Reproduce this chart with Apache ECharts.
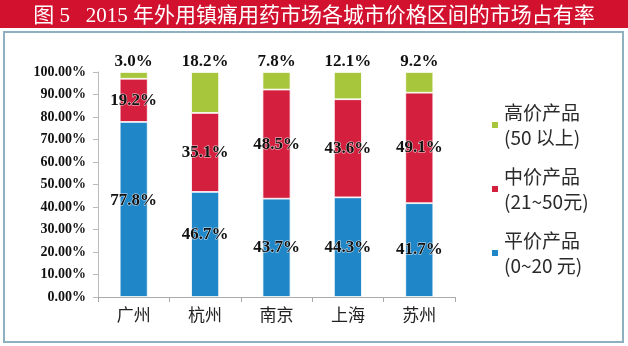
<!DOCTYPE html>
<html><head><meta charset="utf-8">
<script src="https://cdn.jsdelivr.net/npm/echarts@6/dist/echarts.min.js"></script>
<style>html,body{margin:0;padding:0;background:#fff}#c{width:628px;height:346px}</style>
</head><body><div id="c"></div>
<script>
const titleText = '图 5   2015 年外用镇痛用药市场各城市价格区间的市场占有率';
const categories = ['广州', '杭州', '南京', '上海', '苏州'];
const lowName = '平价产品\n(0~20 元)';
const midName = '中价产品\n(21~50元)';
const highName = '高价产品\n(50 以上)';
const lowValues = [77.8, 46.7, 43.7, 44.3, 41.7];
const midValues = [19.2, 35.1, 48.5, 43.6, 49.1];
const highValues = [3.0, 18.2, 7.8, 12.1, 9.2];

// label nudges (style only, pixels) for the bottom segment labels
const lowLabelShift = [-9, -10, 0, 0, 0];

const serif = '"Liberation Serif","Times New Roman","DejaVu Serif","Noto Sans CJK SC",serif';
const sans = '"Noto Sans CJK SC","Noto Sans",sans-serif';
const lbl = {
  show: true, color: '#111', fontFamily: serif, fontWeight: 'bold', fontSize: 17,
  textBorderColor: 'rgba(255,255,255,0.8)', textBorderWidth: 1,
  formatter: p => p.value.toFixed(1) + '%'
};
const chart = echarts.init(document.getElementById('c'), null, {renderer: 'canvas'});
chart.setOption({
  animation: false,
  backgroundColor: '#fff',
  graphic: [
    {type: 'rect', shape: {x: 0, y: 0, width: 628, height: 28}, style: {fill: '#d2112f'}, z: -1},
    {type: 'rect', shape: {x: 4, y: 32, width: 619, height: 310}, style: {fill: 'none', stroke: '#8fb0bf', lineWidth: 2}, z: -1}
  ],
  title: {
    text: titleText, left: 'center', top: 1,
    textStyle: {color: '#fff', fontFamily: serif, fontWeight: 'normal', fontSize: 21}
  },
  legend: {
    orient: 'vertical', left: 485, top: 98, itemWidth: 8, itemHeight: 8, itemGap: 20,
    icon: 'rect',
    data: [highName, midName, lowName],
    formatter: n => n.split('\n').map(s => '{a|' + s + '}').join('\n'),
    textStyle: {color: '#2a2a2a', rich: {a: {fontFamily: sans, fontSize: 19, lineHeight: 25, color: '#2a2a2a'}}}
  },
  grid: {left: 98, right: 173, top: 72, bottom: 49},
  xAxis: {
    type: 'category', data: categories,
    axisLine: {lineStyle: {color: '#aaa'}},
    axisTick: {show: true, length: 5, lineStyle: {color: '#aaa'}},
    axisLabel: {fontFamily: sans, fontSize: 17, color: '#222', margin: 9}
  },
  yAxis: {
    type: 'value', min: 0, max: 100, interval: 10,
    splitLine: {show: false},
    axisLine: {show: true, lineStyle: {color: '#bbb'}},
    axisTick: {show: true, length: 5, lineStyle: {color: '#bbb'}},
    axisLabel: {fontFamily: serif, fontWeight: 'bold', fontSize: 14, color: '#111', margin: 12,
      formatter: v => v.toFixed(2) + '%'}
  },
  series: [
    {name: lowName, type: 'bar', stack: 's', barWidth: 28,
      data: lowValues.map((v, i) => ({value: v, label: {offset: [0, lowLabelShift[i]]}})),
      itemStyle: {color: '#1f86c8', borderColor: '#fff', borderWidth: 0.8},
      label: Object.assign({}, lbl, {position: 'inside'})},
    {name: midName, type: 'bar', stack: 's', data: midValues, barWidth: 28,
      itemStyle: {color: '#d41f3e', borderColor: '#fff', borderWidth: 0.8},
      label: Object.assign({}, lbl, {position: 'inside'})},
    {name: highName, type: 'bar', stack: 's', data: highValues, barWidth: 28,
      itemStyle: {color: '#a7c63c', borderColor: '#fff', borderWidth: 0.8},
      label: Object.assign({}, lbl, {position: 'top', distance: 2, textBorderWidth: 0})}
  ]
});
</script></body></html>
